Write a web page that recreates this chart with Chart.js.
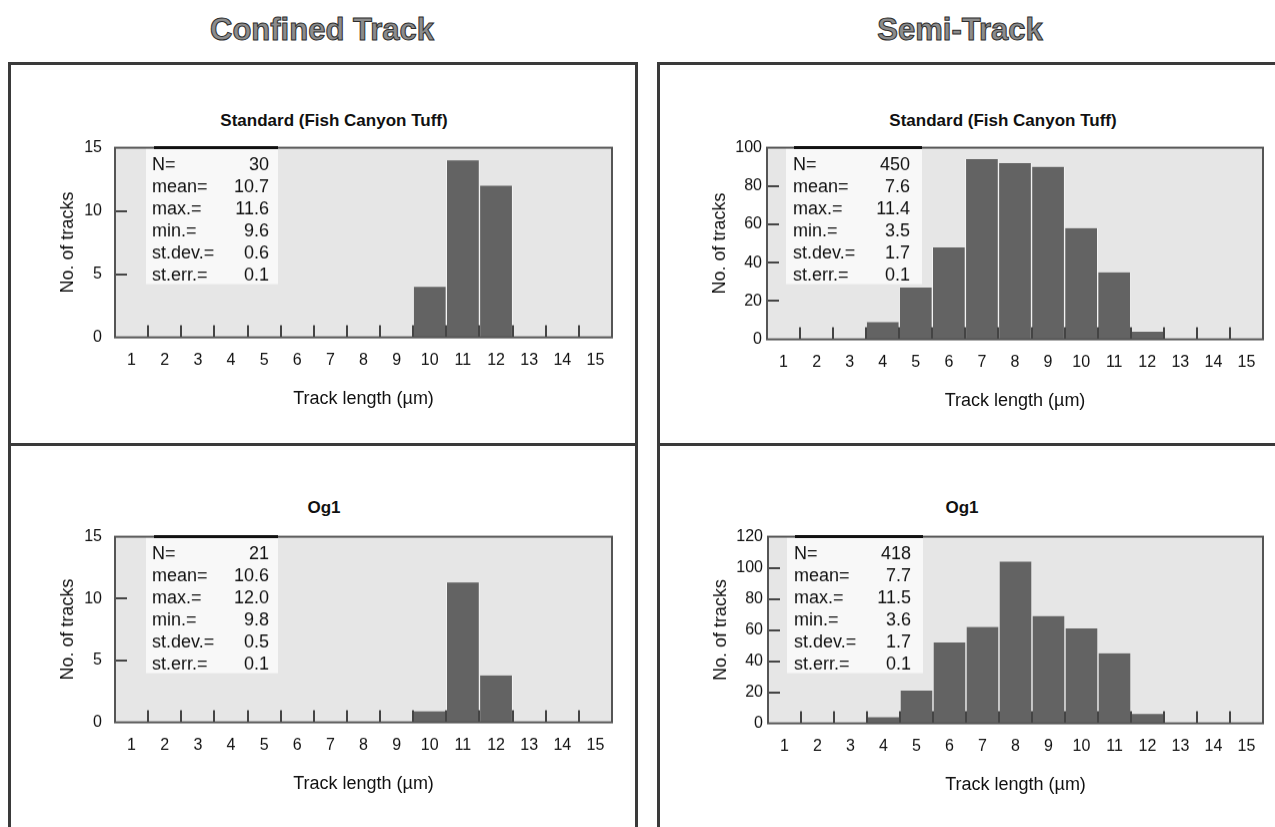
<!DOCTYPE html>
<html>
<head>
<meta charset="utf-8">
<script src="https://cdn.jsdelivr.net/npm/chart.js@4.4.1/dist/chart.umd.min.js"></script>
<style>
  body { margin: 0; width: 1275px; height: 827px; background: #fff; position: relative; overflow: hidden;
         font-family: "Liberation Sans", Arial, sans-serif; color: #111; }
  .head { position: absolute; top: 12px; width: 400px; line-height: 36px; text-align: center;
          font-size: 31px; font-weight: bold; color: #8c8c8c; -webkit-text-stroke: 1px #2e2e2e; }
  .box { position: absolute; border: 3px solid #3a3a3a; box-sizing: border-box; }
  .sub { position: absolute; width: 400px; line-height: 20px; text-align: center; font-size: 17px; font-weight: bold; }
  canvas { position: absolute; }
</style>
</head>
<body>
<div class="head" style="left:122px">Confined Track</div>
<div class="head" style="left:760px">Semi-Track</div>

<div class="box" style="left:8px; top:62px; width:630px; height:384px"></div>
<div class="box" style="left:8px; top:443px; width:630px; height:400px"></div>
<div class="box" style="left:657px; top:62px; width:640px; height:384px"></div>
<div class="box" style="left:657px; top:443px; width:640px; height:400px"></div>

<div class="sub" style="left:134px; top:111px">Standard (Fish Canyon Tuff)</div>
<div class="sub" style="left:803px; top:111px">Standard (Fish Canyon Tuff)</div>
<div class="sub" style="left:124px; top:498px">Og1</div>
<div class="sub" style="left:762px; top:498px">Og1</div>

<script>
const binLabels = ['1', '2', '3', '4', '5', '6', '7', '8', '9', '10', '11', '12', '13', '14', '15'];
const statNames = ['N=', 'mean=', 'max.=', 'min.=', 'st.dev.=', 'st.err.='];

// Confined track
const confinedStdCounts = [0, 0, 0, 0, 0, 0, 0, 0, 0, 4, 14, 12, 0, 0, 0];
const confinedStdStats = ['30', '10.7', '11.6', '9.6', '0.6', '0.1'];
const confinedOg1Counts = [0, 0, 0, 0, 0, 0, 0, 0, 0, 0.9, 11.3, 3.8, 0, 0, 0];
const confinedOg1Stats = ['21', '10.6', '12.0', '9.8', '0.5', '0.1'];
const confinedTicks = [0, 5, 10, 15];

// Semi-track
const semiStdCounts = [0, 0, 0, 9, 27, 48, 94, 92, 90, 58, 35, 4, 0, 0, 0];
const semiStdStats = ['450', '7.6', '11.4', '3.5', '1.7', '0.1'];
const semiStdTicks = [0, 20, 40, 60, 80, 100];
const semiOg1Counts = [0, 0, 0, 4, 21, 52, 62, 104, 69, 61, 45, 6, 0, 0, 0];
const semiOg1Stats = ['418', '7.7', '11.5', '3.6', '1.7', '0.1'];
const semiOg1Ticks = [0, 20, 40, 60, 80, 100, 120];

const FONT = '"Liberation Sans", Arial, sans-serif';

// plot background, inner ticks, stats box and frame
const panelPlugin = {
    id: 'panel',
    beforeDatasetsDraw(chart) {
        const {ctx, chartArea: a} = chart;
        ctx.save();
        ctx.fillStyle = '#e6e6e6';
        ctx.fillRect(a.left, a.top, a.right - a.left, a.bottom - a.top);
        ctx.restore();
    },
    afterDatasetsDraw(chart, args, o) {
        const {ctx, chartArea: a, scales: {x, y}} = chart;
        ctx.save();

        // stats box
        ctx.fillStyle = '#f8f8f8';
        ctx.fillRect(a.left + o.boxX, a.top, o.boxW, 136);
        ctx.fillStyle = '#111';
        ctx.font = '18px ' + FONT;
        ctx.textBaseline = 'middle';
        statNames.forEach((n, i) => {
            const ty = a.top + 17 + 22 * i;
            ctx.textAlign = 'left';
            ctx.fillText(n, a.left + o.labelX, ty);
            ctx.textAlign = 'right';
            ctx.fillText(o.values[i], a.left + o.valueX, ty);
        });

        // bin boundary ticks along the base
        ctx.strokeStyle = '#444';
        ctx.lineWidth = 2;
        for (let i = 0; i < binLabels.length - 1; i++) {
            const px = Math.round((x.getPixelForValue(i) + x.getPixelForValue(i + 1)) / 2);
            ctx.beginPath();
            ctx.moveTo(px, a.bottom);
            ctx.lineTo(px, a.bottom - 12);
            ctx.stroke();
        }
        // y ticks pointing inwards
        y.ticks.forEach(t => {
            if (t.value === y.min || t.value === y.max) return;
            const py = Math.round(y.getPixelForValue(t.value));
            ctx.beginPath();
            ctx.moveTo(a.left, py);
            ctx.lineTo(a.left + 12, py);
            ctx.stroke();
        });

        // frame
        ctx.strokeStyle = '#555';
        ctx.lineWidth = 2;
        ctx.strokeRect(a.left, a.top, a.right - a.left, a.bottom - a.top);
        ctx.strokeStyle = '#111';
        ctx.lineWidth = 3;
        ctx.beginPath();
        ctx.moveTo(a.left + o.boxX + 8, a.top);
        ctx.lineTo(a.left + o.boxX + o.boxW, a.top);
        ctx.stroke();
        ctx.restore();
    }
};

function addPanel(plot, counts, ticks, stats, st) {
    const cv = document.createElement('canvas');
    cv.width = plot.right - plot.left + 100;
    cv.height = plot.bottom - plot.top + 100;
    document.body.appendChild(cv);

    const chart = new Chart(cv, {
        type: 'bar',
        data: {
            labels: binLabels,
            datasets: [{
                data: counts,
                backgroundColor: '#636363',
                borderColor: '#f4f4f4',
                borderWidth: {left: 1, right: 1, top: 0, bottom: 0},
                barPercentage: 1,
                categoryPercentage: 1
            }]
        },
        options: {
            responsive: false,
            maintainAspectRatio: false,
            animation: false,
            devicePixelRatio: 1,
            layout: {padding: {top: 4, right: 8, left: 0, bottom: 0}},
            plugins: {
                legend: {display: false},
                tooltip: {enabled: false},
                panel: {values: stats, boxX: st.boxX, boxW: st.boxW, labelX: st.labelX, valueX: st.valueX}
            },
            scales: {
                x: {
                    offset: true,
                    grid: {display: false, drawTicks: false},
                    border: {display: false},
                    ticks: {color: '#111', font: {size: 16, family: FONT}, padding: 13, maxRotation: 0, autoSkip: false},
                    title: {display: true, text: 'Track length (µm)', color: '#111', font: {size: 18, family: FONT}, padding: {top: 0, bottom: 0}},
                    afterFit(s) { s.height = 72; }
                },
                y: {
                    min: ticks[0],
                    max: ticks[ticks.length - 1],
                    grid: {display: false, drawTicks: false},
                    border: {display: false},
                    afterBuildTicks(s) { s.ticks = ticks.map(v => ({value: v})); },
                    ticks: {color: '#111', font: {size: 16, family: FONT}, padding: st.yPad},
                    title: {display: true, text: 'No. of tracks', color: '#111', font: {size: 18, family: FONT}, padding: {top: 17, bottom: 0}},
                    afterFit(s) { s.width = 75; }
                }
            }
        },
        plugins: [panelPlugin]
    });

    // move and size the canvas so the plot area lands on the wanted rectangle
    const a = chart.chartArea;
    const padL = a.left, padT = a.top, padR = cv.width - a.right, padB = cv.height - a.bottom;
    cv.style.left = (plot.left - padL) + 'px';
    cv.style.top = (plot.top - padT) + 'px';
    chart.resize(padL + plot.right - plot.left + padR, padT + plot.bottom - plot.top + padB);
}

const leftStyle = {boxX: 31, boxW: 132, labelX: 37, valueX: 154, yPad: 13};
const rightStyle = {boxX: 19, boxW: 136, labelX: 26, valueX: 143, yPad: 5};

addPanel({left: 115, right: 612, top: 148, bottom: 337}, confinedStdCounts, confinedTicks, confinedStdStats, leftStyle);
addPanel({left: 115, right: 612, top: 537, bottom: 722}, confinedOg1Counts, confinedTicks, confinedOg1Stats, leftStyle);
addPanel({left: 767, right: 1263, top: 148, bottom: 339}, semiStdCounts, semiStdTicks, semiStdStats, rightStyle);
addPanel({left: 768, right: 1263, top: 537, bottom: 723}, semiOg1Counts, semiOg1Ticks, semiOg1Stats, rightStyle);
</script>
</body>
</html>
